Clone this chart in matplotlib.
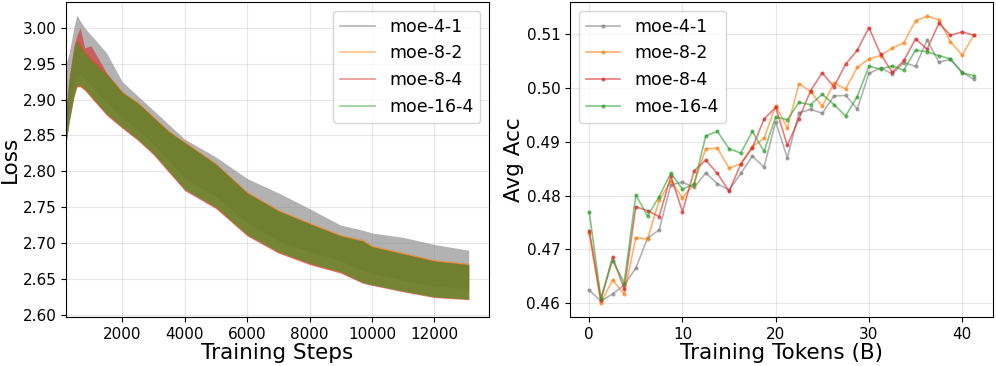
import matplotlib
matplotlib.use("Agg")
import matplotlib.pyplot as plt
from matplotlib.lines import Line2D

RUNS = ["moe-4-1", "moe-8-2", "moe-8-4", "moe-16-4"]
COLORS = {"moe-4-1": "gray", "moe-8-2": "tab:orange", "moe-8-4": "tab:red", "moe-16-4": "tab:green"}

# ---- left panel: loss envelopes (upper / lower edge of the noisy curve) ----
LOSS_STEPS = [200, 300, 450, 550, 650, 800, 1000, 1500, 2000, 2500, 3000, 3500,
              4000, 5000, 6000, 7000, 8000, 9000, 9700, 10000, 11000, 12000, 13100]
loss_hi_41 = [2.950, 2.965, 3.000, 3.018, 3.010, 3.000, 2.990, 2.965, 2.925, 2.905, 2.885, 2.865,
              2.845, 2.820, 2.790, 2.770, 2.748, 2.725, 2.718, 2.714, 2.708, 2.698, 2.690]
loss_lo_41 = [2.850, 2.885, 2.920, 2.935, 2.935, 2.930, 2.920, 2.895, 2.875, 2.858, 2.838, 2.815,
              2.790, 2.765, 2.728, 2.703, 2.688, 2.675, 2.662, 2.658, 2.648, 2.640, 2.636]
loss_hi_82 = [2.890, 2.930, 2.970, 2.985, 2.978, 2.968, 2.958, 2.937, 2.912, 2.897, 2.877, 2.857,
              2.842, 2.812, 2.772, 2.747, 2.729, 2.712, 2.705, 2.697, 2.687, 2.677, 2.672]
loss_lo_82 = [2.840, 2.870, 2.905, 2.918, 2.918, 2.913, 2.903, 2.879, 2.861, 2.844, 2.824, 2.799,
              2.775, 2.749, 2.711, 2.687, 2.671, 2.659, 2.645, 2.642, 2.633, 2.625, 2.622]
loss_hi_84 = [2.890, 2.930, 2.975, 2.990, 3.000, 2.972, 2.975, 2.937, 2.910, 2.895, 2.875, 2.855,
              2.840, 2.810, 2.770, 2.745, 2.727, 2.710, 2.703, 2.695, 2.685, 2.675, 2.670]
loss_lo_84 = [2.838, 2.868, 2.903, 2.918, 2.918, 2.913, 2.903, 2.878, 2.860, 2.843, 2.823, 2.798,
              2.773, 2.748, 2.710, 2.686, 2.670, 2.658, 2.644, 2.641, 2.632, 2.624, 2.621]
loss_hi_164 = [2.888, 2.928, 2.968, 2.983, 2.975, 2.965, 2.955, 2.935, 2.910, 2.895, 2.875, 2.855,
               2.840, 2.810, 2.770, 2.745, 2.727, 2.710, 2.703, 2.695, 2.685, 2.675, 2.670]
loss_lo_164 = [2.840, 2.870, 2.905, 2.920, 2.920, 2.915, 2.905, 2.880, 2.862, 2.845, 2.825, 2.800,
               2.775, 2.750, 2.712, 2.688, 2.672, 2.660, 2.645, 2.642, 2.633, 2.625, 2.622]
LOSS = {"moe-4-1": (loss_lo_41, loss_hi_41), "moe-8-2": (loss_lo_82, loss_hi_82),
        "moe-8-4": (loss_lo_84, loss_hi_84), "moe-16-4": (loss_lo_164, loss_hi_164)}

# ---- right panel: average accuracy per checkpoint ----
TOKENS = [0, 1.25, 2.5, 3.75, 5, 6.25, 7.5, 8.75, 10, 11.25, 12.5, 13.75, 15, 16.25, 17.5,
          18.75, 20, 21.25, 22.5, 23.75, 25, 26.25, 27.5, 28.75, 30, 31.25, 32.5, 33.75,
          35, 36.25, 37.5, 38.75, 40, 41.25]
acc_41 = [0.4624, 0.4604, 0.4617, 0.4634, 0.4665, 0.4721, 0.4736, 0.4820, 0.4825, 0.4815,
          0.4842, 0.4822, 0.4810, 0.4841, 0.4873, 0.4853, 0.4937, 0.4870, 0.4954, 0.4960,
          0.4953, 0.4985, 0.4986, 0.4961, 0.5027, 0.5037, 0.5026, 0.5047, 0.5040, 0.5089,
          0.5048, 0.5053, 0.5029, 0.5016]
acc_82 = [0.4730, 0.4601, 0.4643, 0.4617, 0.4722, 0.4719, 0.4791, 0.4827, 0.4796, 0.4822,
          0.4887, 0.4888, 0.4851, 0.4859, 0.4891, 0.4906, 0.4967, 0.4925, 0.5008, 0.4993,
          0.4966, 0.5009, 0.4998, 0.5038, 0.5054, 0.5060, 0.5074, 0.5084, 0.5125, 0.5133,
          0.5127, 0.5086, 0.5061, 0.5098]
acc_84 = [0.4735, 0.4606, 0.4686, 0.4626, 0.4779, 0.4772, 0.4761, 0.4836, 0.4770, 0.4846,
          0.4866, 0.4841, 0.4808, 0.4858, 0.4889, 0.4942, 0.4964, 0.4893, 0.4943, 0.4995,
          0.5028, 0.5002, 0.5044, 0.5070, 0.5112, 0.5063, 0.5029, 0.5051, 0.5091, 0.5072,
          0.5120, 0.5098, 0.5104, 0.5098]
acc_164 = [0.4770, 0.4609, 0.4679, 0.4638, 0.4801, 0.4762, 0.4798, 0.4842, 0.4812, 0.4821,
           0.4911, 0.4919, 0.4887, 0.4879, 0.4919, 0.4882, 0.4946, 0.4941, 0.4973, 0.4969,
           0.4988, 0.4969, 0.4948, 0.4984, 0.5040, 0.5035, 0.5041, 0.5033, 0.5070, 0.5067,
           0.5060, 0.5054, 0.5028, 0.5023]
ACC = {"moe-4-1": acc_41, "moe-8-2": acc_82, "moe-8-4": acc_84, "moe-16-4": acc_164}

TICK_FS = 11
LABEL_FS = 15.5
LEGEND_FS = 12.5

fig = plt.figure(figsize=(9.96, 3.66), dpi=100)
ax1 = fig.add_axes([0.0663, 0.134, 0.4247, 0.8605])
ax2 = fig.add_axes([0.5723, 0.134, 0.4247, 0.8605])

# left: loss (dense noisy curves drawn as their min/max envelope)
for r in RUNS:
    lo, hi = LOSS[r]
    ax1.fill_between(LOSS_STEPS, lo, hi, color=COLORS[r], alpha=0.6, lw=0, zorder=2)
ax1.set_xlim(200, 13750)
ax1.set_ylim(2.597, 3.036)
ax1.set_xlabel("Training Steps", fontsize=LABEL_FS, labelpad=1)
ax1.set_ylabel("Loss", fontsize=LABEL_FS, labelpad=2)
handles = [Line2D([0], [0], color=COLORS[r], alpha=0.6 if r == "moe-4-1" else 0.5, lw=1.2, label=r)
           for r in RUNS]
ax1.legend(handles=handles, loc="upper right", fontsize=LEGEND_FS)

# right: avg acc
for r in RUNS:
    ax2.plot(TOKENS, ACC[r], color=COLORS[r], marker="o", markersize=2, lw=1.2, alpha=0.6, label=r)
ax2.set_xlabel("Training Tokens (B)", fontsize=LABEL_FS, labelpad=1)
ax2.set_ylabel("Avg Acc", fontsize=LABEL_FS, labelpad=2)
ax2.set_yticks([0.46, 0.47, 0.48, 0.49, 0.50, 0.51])
ax2.legend(loc="upper left", fontsize=LEGEND_FS)

for ax in (ax1, ax2):
    ax.grid(True, alpha=0.3, zorder=0)
    ax.tick_params(labelsize=TICK_FS)

fig.savefig("out.png", dpi=100)
